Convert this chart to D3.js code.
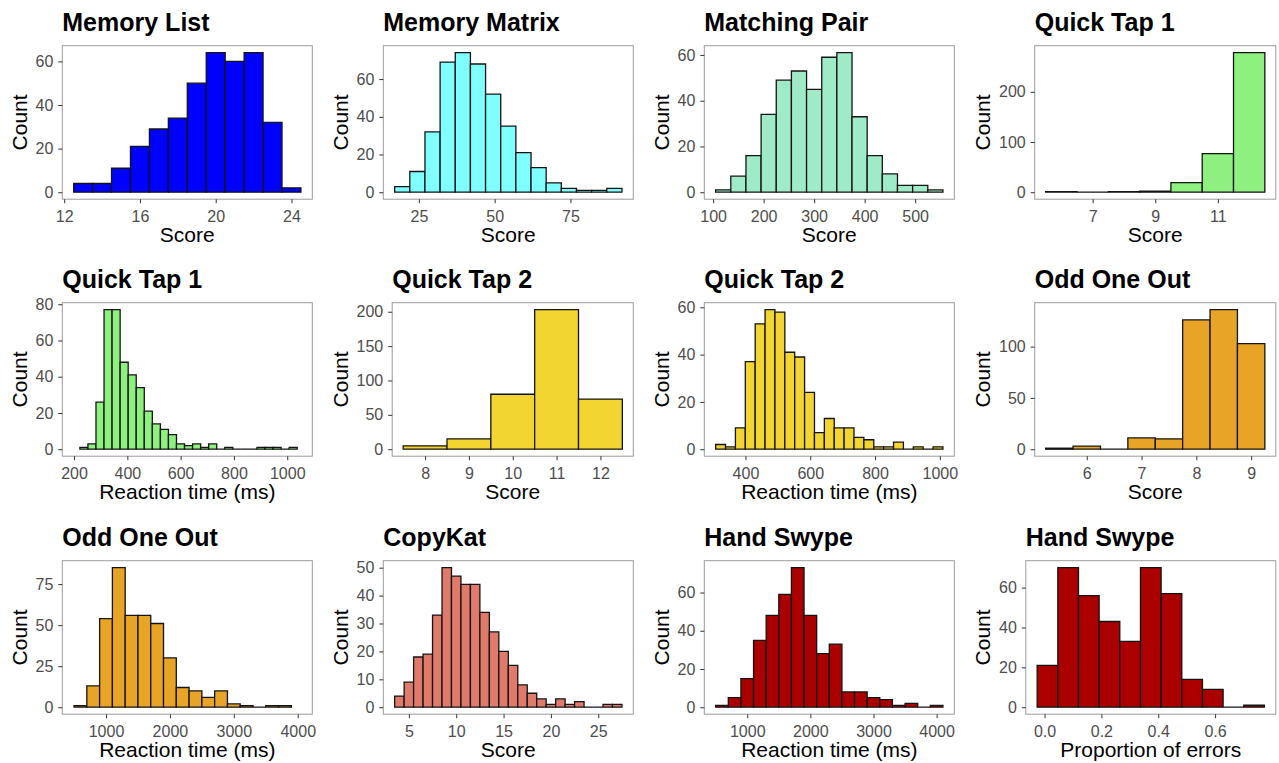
<!DOCTYPE html>
<html>
<head>
<meta charset="utf-8">
<script src="https://cdn.jsdelivr.net/npm/d3@7"></script>
<style>
  body { margin: 0; background: #ffffff; }
  svg { display: block; font-family: "Liberation Sans", Arial, Helvetica, sans-serif; }
</style>
</head>
<body>
<svg id="chart" width="1279" height="763"></svg>
<script>
// ---- Histogram data: one entry per panel, row by row ----
const panelTitles = [
  "Memory List", "Memory Matrix", "Matching Pair", "Quick Tap 1",
  "Quick Tap 1", "Quick Tap 2", "Quick Tap 2", "Odd One Out",
  "Odd One Out", "CopyKat", "Hand Swype", "Hand Swype"
];
const xTitles = [
  "Score", "Score", "Score", "Score",
  "Reaction time (ms)", "Score", "Reaction time (ms)", "Score",
  "Reaction time (ms)", "Score", "Reaction time (ms)", "Proportion of errors"
];
const fillColors = [
  "#0000ff", "#80ffff", "#a0ebc7", "#8ef07f",
  "#8ef07f", "#f3d532", "#f3d532", "#e8a427",
  "#e8a427", "#e07b6c", "#aa0000", "#aa0000"
];

// bin counts
const memoryListCounts    = [4, 4, 11, 21, 29, 34, 50, 64, 60, 64, 32, 2];
const memoryMatrixCounts  = [3, 11, 32, 69, 74, 68, 52, 35, 21, 13, 5, 2, 1, 1, 2];
const matchingPairCounts  = [1, 7, 16, 34, 49, 53, 45, 59, 61, 33, 16, 8, 3, 3, 1];
const quickTap1Scores     = [1, 0, 1, 2, 19, 77, 278];
const quickTap1RT         = [1, 3, 26, 77, 77, 48, 41, 34, 21, 14, 11, 8, 3, 2, 3, 1, 3, 0, 1, 0, 0, 0, 1, 1, 1, 0, 1];
const quickTap2Scores     = [5, 15, 80, 203, 73];
const quickTap2RT         = [2, 1, 9, 37, 53, 59, 58, 41, 39, 24, 7, 13, 9, 9, 5, 4, 1, 1, 3, 0, 1, 0, 1];
const oddOneOutScores     = [1, 3, 0, 11, 10, 126, 136, 103];
const oddOneOutRT         = [1, 13, 54, 85, 56, 56, 51, 30, 12, 10, 6, 10, 2, 1, 0, 1, 1];
const copyKatScores       = [4, 9, 18, 19, 33, 50, 47, 44, 44, 34, 27, 20, 15, 8, 5, 3, 1, 3, 1, 2, 0, 0, 1, 1];
const handSwypeRT         = [1, 5, 15, 35, 48, 59, 73, 48, 28, 33, 8, 8, 5, 4, 1, 2, 0, 1];
const handSwypeErrors     = [21, 70, 56, 43, 33, 70, 57, 14, 9, 0, 1];

const allCounts = [
  memoryListCounts, memoryMatrixCounts, matchingPairCounts, quickTap1Scores,
  quickTap1RT, quickTap2Scores, quickTap2RT, oddOneOutScores,
  oddOneOutRT, copyKatScores, handSwypeRT, handSwypeErrors
];

// left edge of the first bin and the bin width
const binStarts = [12.5, 17, 105, 5.5, 222, 7.5, 308, 5.25, 500, 3.5, 500, -0.026];
const binWidths = [1, 5, 30, 1, 30.2, 1, 30.5, 0.5, 200, 1, 200, 0.0727];

// x ranges that run wider than the bins (raw data reach past the last bin)
const xRangeOverride = { 4: [156, 1094], 8: [316, 4228] };

// axis ticks
const xTicks = [
  [12, 16, 20, 24], [25, 50, 75], [100, 200, 300, 400, 500], [7, 9, 11],
  [200, 400, 600, 800, 1000], [8, 9, 10, 11, 12], [400, 600, 800, 1000], [6, 7, 8, 9],
  [1000, 2000, 3000, 4000], [5, 10, 15, 20, 25], [1000, 2000, 3000, 4000], [0, 0.2, 0.4, 0.6]
];
const yTicks = [
  [0, 20, 40, 60], [0, 20, 40, 60], [0, 20, 40, 60], [0, 100, 200],
  [0, 20, 40, 60, 80], [0, 50, 100, 150, 200], [0, 20, 40, 60], [0, 50, 100],
  [0, 25, 50, 75], [0, 10, 20, 30, 40, 50], [0, 20, 40, 60], [0, 20, 40, 60]
];

// ---- Layout (4 x 3 grid of small plots) ----
const cellX = [0, 321, 642, 963.5];
const cellPanelRight = 312.3;
const rowTop = [45.7, 302.7, 560.7];
const panelH = 153.5;
const tickFont = 16, axisFont = 21, titleFont = 25;
const tickLen = 4;

const svg = d3.select("#chart");

// measure text width of tick labels before building each panel
const measure = svg.append("text").attr("font-size", tickFont).attr("visibility", "hidden");
function textWidth(s) { measure.text(s); return measure.node().getComputedTextLength(); }

allCounts.forEach((counts, i) => {
  const col = i % 4, row = Math.floor(i / 4);
  const top = rowTop[row], bottom = top + panelH;
  const right = cellX[col] + cellPanelRight;

  const xFmt = i === 11 ? d3.format(".1f") : d3.format("d");
  const yFmt = d3.format("d");
  const labelW = d3.max(yTicks[i], t => textWidth(yFmt(t)));
  const left = cellX[col] + 44.5 + labelW;

  // continuous scales with 5% padding on each side
  const start = binStarts[i], w = binWidths[i];
  const lo = start, hi = start + counts.length * w, pad = 0.05 * (hi - lo);
  const xDomain = xRangeOverride[i] || [lo - pad, hi + pad];
  const x = d3.scaleLinear().domain(xDomain).range([left, right]);
  const maxC = d3.max(counts);
  const y = d3.scaleLinear().domain([-0.05 * maxC, 1.05 * maxC]).range([bottom, top]);

  const g = svg.append("g");

  // bars (drawn as paths so empty bins still show their outline)
  g.append("g").selectAll("path")
    .data(counts)
    .join("path")
    .attr("d", (c, k) => {
      const x0 = x(start + k * w), x1 = x(start + (k + 1) * w);
      return `M${x0},${y(0)}H${x1}V${y(c)}H${x0}Z`;
    })
    .attr("fill", fillColors[i])
    .attr("stroke", "#141414")
    .attr("stroke-width", 1.3)
    .attr("stroke-linejoin", "miter");

  // panel border
  g.append("rect")
    .attr("x", left).attr("y", top)
    .attr("width", right - left).attr("height", bottom - top)
    .attr("fill", "none").attr("stroke", "#9c9c9c").attr("stroke-width", 1);

  // x axis
  const xAxis = g.append("g").attr("transform", `translate(0,${bottom})`)
    .call(d3.axisBottom(x).tickValues(xTicks[i]).tickFormat(xFmt).tickSize(tickLen).tickPadding(7));
  xAxis.select(".domain").remove();
  xAxis.selectAll("line").attr("stroke", "#333333");
  xAxis.selectAll("text").attr("font-size", tickFont).attr("fill", "#4d4d4d")
    .attr("font-family", "'Liberation Sans', Arial, sans-serif");

  // y axis
  const yAxis = g.append("g").attr("transform", `translate(${left},0)`)
    .call(d3.axisLeft(y).tickValues(yTicks[i]).tickFormat(yFmt).tickSize(tickLen).tickPadding(5));
  yAxis.select(".domain").remove();
  yAxis.selectAll("line").attr("stroke", "#333333");
  yAxis.selectAll("text").attr("font-size", tickFont).attr("fill", "#4d4d4d")
    .attr("font-family", "'Liberation Sans', Arial, sans-serif");

  // axis titles
  g.append("text")
    .attr("x", (left + right) / 2).attr("y", bottom + 43)
    .attr("text-anchor", "middle").attr("font-size", axisFont).attr("fill", "#000")
    .text(xTitles[i]);
  g.append("text")
    .attr("transform", `translate(${left - tickLen - 5 - labelW - 8.8},${(top + bottom) / 2}) rotate(-90)`)
    .attr("text-anchor", "middle").attr("font-size", axisFont).attr("fill", "#000")
    .text("Count");

  // plot title
  g.append("text")
    .attr("x", left).attr("y", top - 15.2)
    .attr("font-size", titleFont).attr("font-weight", "bold").attr("fill", "#000")
    .text(panelTitles[i]);
});

measure.remove();
</script>
</body>
</html>
